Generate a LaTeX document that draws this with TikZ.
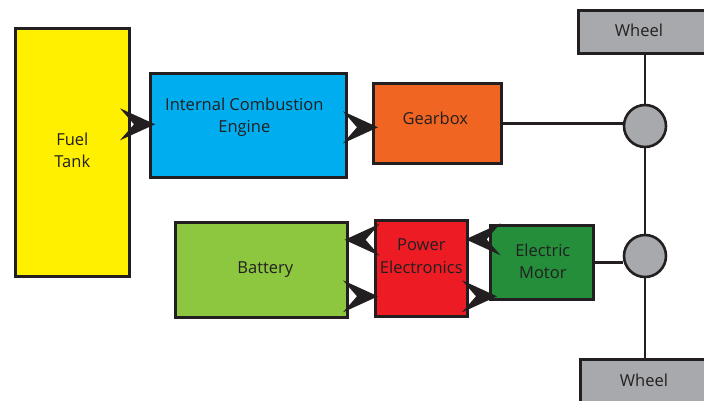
\documentclass[tikz,border=0pt]{standalone}
\usepackage{fontspec}
\setmainfont{Open Sans}
\usetikzlibrary{calc}
\definecolor{ink}{RGB}{35,31,32}
\definecolor{fuel}{RGB}{255,240,0}
\definecolor{ice}{RGB}{0,174,239}
\definecolor{gear}{RGB}{241,101,34}
\definecolor{wheelc}{RGB}{167,169,172}
\definecolor{batt}{RGB}{141,198,63}
\definecolor{pe}{RGB}{237,28,36}
\definecolor{motor}{RGB}{36,142,58}
\begin{document}
\begin{tikzpicture}[x=1pt,y=-1pt,
  blk/.style={draw=ink,line width=2.6pt,anchor=north west,inner sep=0pt},
  txt/.style={align=center,text=ink,font=\fontsize{16.5}{22.5}\selectfont,inner sep=0pt},
  hub/.style={circle,draw=ink,line width=2.6pt,fill=wheelc,minimum size=42pt,inner sep=0pt},
  link/.style={draw=ink,line width=2.6pt},
  chev/.pic={\fill[ink] (0,0) -- (-35,-16) -- (-21,0) -- (-35,16) -- cycle;}
]
\useasboundingbox (0,0) rectangle (704,400);
\node[blk,fill=fuel,minimum width=114pt,minimum height=248pt] (fuel) at (14,27) {};
\node[blk,fill=ice,minimum width=196pt,minimum height=104pt] (ice) at (149,72) {};
\node[blk,fill=gear,minimum width=128pt,minimum height=80pt] (gear) at (372,82) {};
\node[blk,fill=wheelc,minimum width=140pt,minimum height=43pt] (w1) at (577,9) {};
\node[blk,fill=wheelc,minimum width=140pt,minimum height=48pt] (w2) at (579,358) {};
\node[blk,fill=batt,minimum width=172pt,minimum height=95pt] (batt) at (174,221) {};
\node[blk,fill=pe,minimum width=92pt,minimum height=96pt] (pe) at (374,219) {};
\node[blk,fill=motor,minimum width=103pt,minimum height=74pt] (motor) at (489,224) {};
\node[txt] (fuelT) at ($(fuel.center)+(0,-2)$) {Fuel\\Tank};
\node[txt] (iceT) at ($(ice.center)+(-4,-8)$) {Internal Combustion\\Engine};
\node[txt] (gearT) at ($(gear.center)+(-2,-5)$) {Gearbox};
\node[txt] (w1T) at (639,30) {Wheel};
\node[txt] (w2T) at (644,380) {Wheel};
\node[txt] (battT) at ($(batt.center)+(4,0)$) {Battery};
\node[txt] (peT) at ($(pe.center)+(0,-12)$) {Power\\Electronics};
\node[txt] (motorT) at ($(motor.center)+(1,-1)$) {Electric\\Motor};
\coordinate (axis) at (645,0);
\node[hub] (h1) at (645,126) {};
\node[hub] (h2) at (645,256) {};
\draw[link] (w1.south -| axis) -- (h1);
\draw[link] (h1) -- (h2);
\draw[link] (h2) -- (w2.north -| axis);
\draw[link] (gear.east) -- (gear.east -| h1.west);
\draw[link] (motor.east) -- (motor.east -| h2.west);
\pic at ($(ice.west)+(6,-1)$) {chev};
\pic at ($(gear.west)+(6,4)$) {chev};
\pic[rotate=180] at ($(batt.east)+(-4,-30)$) {chev};
\pic at ($(pe.west)+(4,28)$) {chev};
\pic[rotate=180] at ($(pe.east)+(-3,-29)$) {chev};
\pic at ($(motor.west)+(8,34)$) {chev};
\end{tikzpicture}
\end{document}
